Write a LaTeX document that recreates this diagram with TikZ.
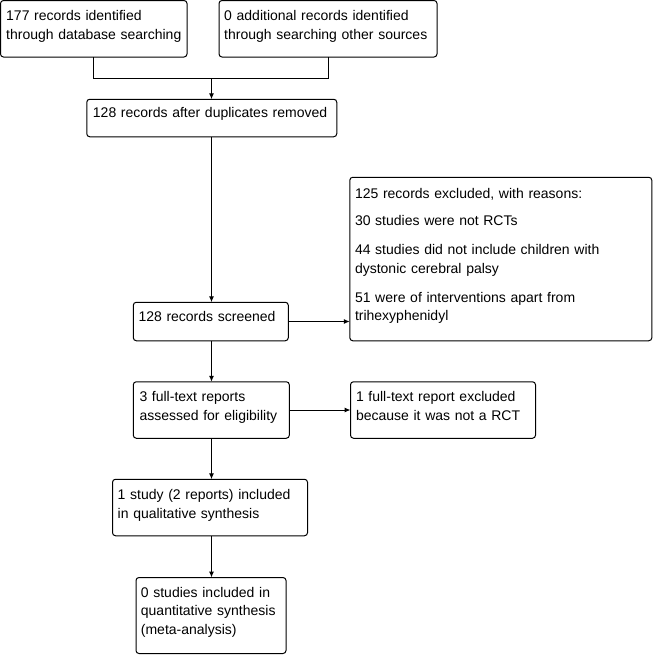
\documentclass[tikz,border=0pt]{standalone}
\usepackage{fontspec}
\setmainfont{Liberation Sans}
\usetikzlibrary{arrows.meta}
\begin{document}
\begin{tikzpicture}[x=1pt,y=-1pt,
  box/.style={draw=black,line width=1pt,rounded corners=3pt,inner sep=0pt,outer sep=0pt},
  txt/.style={anchor=base west,inner sep=0pt,align=left,text width=300pt,
    font=\fontsize{14}{18.7}\selectfont},
  conn/.style={line width=1pt,draw=black},
  arr/.style={conn,-{Latex[length=6pt,width=5pt]}}]
\useasboundingbox (0,0) rectangle (655,654);
% boxes
\node[box,minimum width=186.5pt,minimum height=56.5pt] (A) at (93.75,28.75) {};
\node[box,minimum width=218pt,minimum height=56.5pt] (B) at (328,28.75) {};
\node[box,minimum width=250pt,minimum height=37.5pt] (C) at (211.75,118) {};
\node[box,minimum width=155pt,minimum height=38.5pt] (D) at (210.8,321.5) {};
\node[box,minimum width=302pt,minimum height=163.5pt] (E) at (500.8,259) {};
\node[box,minimum width=156pt,minimum height=56.5pt] (F) at (211.3,410) {};
\node[box,minimum width=185pt,minimum height=56.5pt] (G) at (443,410) {};
\node[box,minimum width=195pt,minimum height=56.5pt] (H) at (210,507.5) {};
\node[box,minimum width=150pt,minimum height=76pt] (I) at (211,615.5) {};
% texts
\node[txt] (tA) at ([shift={(5.5,20)}]A.north west) {177 records identified\\through database searching};
\node[txt] (tB) at ([shift={(5,20)}]B.north west) {0 additional records identified\\through searching other sources};
\node[txt] (tC) at ([shift={(6,18)}]C.north west) {128 records after duplicates removed};
\node[txt] (tD) at ([shift={(5,19.5)}]D.north west) {128 records screened};
\node[txt] (tE) at ([shift={(5,21)}]E.north west) {125 records excluded, with reasons:\\[9pt]30 studies were not RCTs\\[10pt]44 studies did not include children with\\dystonic cerebral palsy\\[10pt]51 were of interventions apart from\\trihexyphenidyl};
\node[txt] (tF) at ([shift={(6,20)}]F.north west) {3 full-text reports\\assessed for eligibility};
\node[txt] (tG) at ([shift={(5.3,20)}]G.north west) {1 full-text report excluded\\because it was not a RCT};
\node[txt] (tH) at ([shift={(5,20.3)}]H.north west) {1 study (2 reports) included\\in qualitative synthesis};
\node[txt] (tI) at ([shift={(4.7,19.7)}]I.north west) {0 studies included in\\quantitative synthesis\\(meta-analysis)};
% connectors
\coordinate (J) at (211.5,78);
\draw[conn] (A.south) |- (J);
\draw[conn] (B.south) |- (J);
\draw[arr] (J) -- (J |- C.north);
\draw[arr] (C.south -| J) -- (J |- D.north);
\draw[arr] (D.east) -- (D.east -| E.west);
\draw[arr] (J |- D.south) -- (J |- F.north);
\draw[arr] (F.east) -- (F.east -| G.west);
\draw[arr] (J |- F.south) -- (J |- H.north);
\draw[arr] (J |- H.south) -- (J |- I.north);
\end{tikzpicture}
\end{document}
